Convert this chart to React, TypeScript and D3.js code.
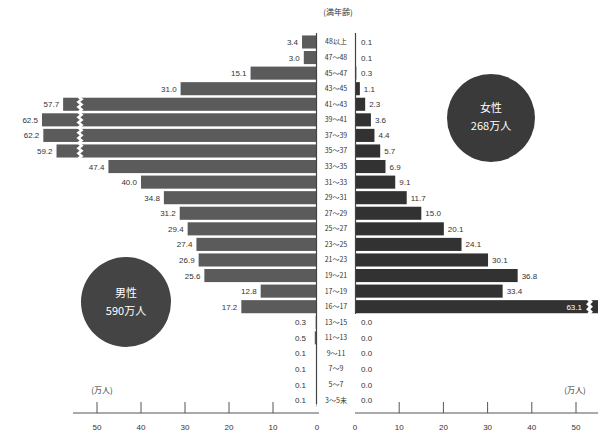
import React from "react";
import * as d3 from "d3";

const ages = [
  "48以上", "47〜48", "45〜47", "43〜45", "41〜43", "39〜41", "37〜39", "35〜37",
  "33〜35", "31〜33", "29〜31", "27〜29", "25〜27", "23〜25", "21〜23", "19〜21",
  "17〜19", "16〜17", "13〜15", "11〜13", "9〜11", "7〜9", "5〜7", "3〜5未",
];
const maleValues = [
  3.4, 3.0, 15.1, 31.0, 57.7, 62.5, 62.2, 59.2, 47.4, 40.0, 34.8, 31.2,
  29.4, 27.4, 26.9, 25.6, 12.8, 17.2, 0.3, 0.5, 0.1, 0.1, 0.1, 0.1,
];
const femaleValues = [
  0.1, 0.1, 0.3, 1.1, 2.3, 3.6, 4.4, 5.7, 6.9, 9.1, 11.7, 15.0,
  20.1, 24.1, 30.1, 36.8, 33.4, 63.1, 0.0, 0.0, 0.0, 0.0, 0.0, 0.0,
];
const tickValues = [0, 10, 20, 30, 40, 50];
const headerLabel = "(満年齢)";
const unitLabel = "(万人)";
const maleTotal = ["男性", "590万人"];
const femaleTotal = ["女性", "268万人"];

const W = 598;
const H = 441;
const FONT = "'Liberation Sans', 'Noto Sans CJK JP', sans-serif";
const JP = "'Noto Sans CJK JP', sans-serif";

export default function App() {
  const xM = d3.scaleLinear().domain([0, 50]).range([317, 97]);
  const xF = d3.scaleLinear().domain([0, 50]).range([355, 576]);
  const y = d3
    .scaleBand<string>()
    .domain(ages)
    .range([34.2, 407.9])
    .paddingInner(0.16)
    .paddingOuter(0.08);
  const bw = y.bandwidth();
  const maleColor = "#5b5b5b";
  const femaleColor = "#323232";
  const textColor = "#333";

  const breakRows = ages.filter((a, i) => xM(maleValues[i]) < 80);
  const bTop = breakRows.length ? (y(breakRows[0]) as number) - 1 : 0;
  const bBot = breakRows.length
    ? (y(breakRows[breakRows.length - 1]) as number) + bw + 1
    : 0;
  const zig = (cx: number, y0: number, y1: number, amp: number, n: number) => {
    const pts: [number, number][] = [];
    for (let k = 0; k <= n; k++) {
      pts.push([cx + (k % 2 === 0 ? -amp : amp), y0 + ((y1 - y0) * k) / n]);
    }
    return d3.line()(pts) as string;
  };

  return (
    <svg
      width={W}
      height={H}
      style={{ position: "absolute", left: 0, top: 0, background: "#fff" }}
    >
      <rect width={W} height={H} fill="#fff" />
      {/* header */}
      <text x={338} y={15} fontSize={8} fontFamily={JP} textAnchor="middle" fill={textColor}>
        {headerLabel}
      </text>

      {/* male bars */}
      {ages.map((a, i) => {
        const v = maleValues[i];
        const x0 = xM(v);
        const yy = y(a) as number;
        return (
          <g key={"m" + a}>
            <rect x={x0} y={yy} width={317 - x0} height={bw} fill={maleColor} />
            <text
              x={Math.min(x0 - 4, 306)}
              y={yy + bw / 2 + 3}
              fontSize={8}
              fontFamily={FONT}
              textAnchor="end"
              fill={textColor}
            >
              {v.toFixed(1)}
            </text>
          </g>
        );
      })}
      {breakRows.length > 0 && (
        <path d={zig(80, bTop, bBot, 1.6, 24)} stroke="#fff" strokeWidth={2.5} fill="none" />
      )}

      {/* female bars */}
      {ages.map((a, i) => {
        const v = femaleValues[i];
        const x1 = Math.min(xF(v), W + 2);
        const yy = y(a) as number;
        const over = xF(v) > W;
        return (
          <g key={"f" + a}>
            {v > 0 && <rect x={355} y={yy} width={x1 - 355} height={bw} fill={femaleColor} />}
            {over ? (
              <>
                <path
                  d={zig(589.5, yy - 1, yy + bw + 1, 1.3, 6)}
                  stroke="#fff"
                  strokeWidth={3}
                  fill="none"
                />
                <text
                  x={582}
                  y={yy + bw / 2 + 3}
                  fontSize={8}
                  fontFamily={FONT}
                  textAnchor="end"
                  fill="#fff"
                >
                  {v.toFixed(1)}
                </text>
              </>
            ) : (
              <text
                x={Math.max(x1 + 4, 361)}
                y={yy + bw / 2 + 3}
                fontSize={8}
                fontFamily={FONT}
                textAnchor="start"
                fill={textColor}
              >
                {v.toFixed(1)}
              </text>
            )}
          </g>
        );
      })}

      {/* zero lines */}
      <line x1={316.5} x2={316.5} y1={33} y2={404} stroke="#444" strokeWidth={1.2} />
      <line x1={355.5} x2={355.5} y1={33} y2={314} stroke="#444" strokeWidth={1.2} />

      {/* age labels */}
      {ages.map((a) => (
        <text
          key={"l" + a}
          x={336}
          y={(y(a) as number) + bw / 2 + 2.5}
          fontSize={7}
          fontFamily={JP}
          textAnchor="middle"
          fill={textColor}
        >
          {a}
        </text>
      ))}

      {/* axes */}
      <line x1={73} x2={319} y1={413} y2={413} stroke="#555" strokeWidth={1} />
      <line x1={355} x2={W} y1={413} y2={413} stroke="#555" strokeWidth={1} />
      {tickValues.map((t) => (
        <g key={"t" + t}>
          {t > 0 && <line x1={xM(t)} x2={xM(t)} y1={402} y2={413} stroke="#555" />}
          {t > 0 && <line x1={xF(t)} x2={xF(t)} y1={402} y2={413} stroke="#555" />}
          <text x={xM(t)} y={430} fontSize={8} fontFamily={FONT} textAnchor="middle" fill={textColor}>
            {t}
          </text>
          <text x={xF(t)} y={430} fontSize={8} fontFamily={FONT} textAnchor="middle" fill={textColor}>
            {t}
          </text>
        </g>
      ))}
      <text x={102} y={393} fontSize={8} fontFamily={JP} textAnchor="middle" fill={textColor}>
        {unitLabel}
      </text>
      <text x={575} y={393} fontSize={8} fontFamily={JP} textAnchor="middle" fill={textColor}>
        {unitLabel}
      </text>

      {/* totals */}
      <circle cx={491} cy={118} r={44} fill="#3a3a3a" />
      <text x={491} y={112} fontSize={11} fontFamily={JP} textAnchor="middle" fill="#fff">
        {femaleTotal[0]}
      </text>
      <text x={491} y={130} fontSize={11} fontFamily={JP} textAnchor="middle" fill="#fff">
        {femaleTotal[1]}
      </text>
      <circle cx={126} cy={302} r={45} fill="#444" />
      <text x={126} y={297} fontSize={11} fontFamily={JP} textAnchor="middle" fill="#fff">
        {maleTotal[0]}
      </text>
      <text x={126} y={315} fontSize={11} fontFamily={JP} textAnchor="middle" fill="#fff">
        {maleTotal[1]}
      </text>
    </svg>
  );
}
